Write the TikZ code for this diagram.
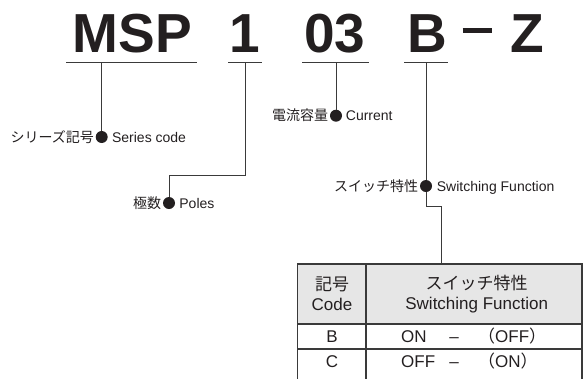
\documentclass[tikz,border=0pt]{standalone}
\usepackage{fontspec}
\setmainfont{Liberation Sans}
\newfontfamily\cjk{Noto Sans CJK JP}
\usetikzlibrary{positioning}
\definecolor{ink}{HTML}{231F20}
\definecolor{rule}{HTML}{3A3A3A}
\definecolor{headfill}{HTML}{E6E6E6}
\begin{document}
\begin{tikzpicture}[x=1pt,y=-1pt,
  every node/.style={text=ink,inner sep=0pt},
  code/.style={font=\fontsize{55}{55}\selectfont\bfseries,anchor=base},
  dot/.style={circle,fill=ink,minimum size=12pt},
  lab/.style={font=\fontsize{14}{14}\selectfont,text height=10pt,text depth=0pt},
  wire/.style={draw=rule,line width=0.8pt},
  grid/.style={draw=rule,line width=1.2pt},
  cell/.style={font=\fontsize{17}{20}\selectfont}]
  \clip (0,0) rectangle (584,378);
  \node[code] (msp) at (132.5,52) {MSP};
  \node[code] (one) at (245,52) {1};
  \node[code] (amp) at (335,52) {03};
  \node[code] (sw) at (427.5,52) {B};
  \node[code] (dash) at (477,52) {\rule[19pt]{29pt}{5pt}};
  \node[code] (z) at (527,52) {Z};
  \draw[wire] (66,62) -- (197,62) (228,62) -- (262,62)
    (302,62) -- (369,62) (404,62) -- (448,62);
  \coordinate (u-msp) at (101.7,62);
  \coordinate (u-one) at (245,62);
  \coordinate (u-amp) at (336,62);
  \coordinate (u-sw) at (426,62);
  \node[dot] (series) at (101.7,137) {};
  \node[dot] (poles) at (169,203) {};
  \node[dot] (current) at (336,115.7) {};
  \node[dot] (switch) at (426,186) {};
  \node[lab,left=1.5pt of series] {\cjk シリーズ記号};
  \node[lab,right=4pt of series] {Series code};
  \node[lab,left=1.5pt of poles] {\cjk 極数};
  \node[lab,right=4pt of poles] {Poles};
  \node[lab,left=1.5pt of current] {\cjk 電流容量};
  \node[lab,right=3.5pt of current] {Current};
  \node[lab,left=1.5pt of switch] {\cjk スイッチ特性};
  \node[lab,right=4.5pt of switch] {Switching Function};
  \coordinate (k-one) at (245,175);
  \coordinate (k-sw) at (441.7,206);
  \coordinate (tab-in) at (441.7,264);
  \draw[wire] (u-msp) -- (series);
  \draw[wire] (u-one) -- (k-one) -| (poles);
  \draw[wire] (u-amp) -- (current);
  \draw[wire] (u-sw) -- (switch) |- (k-sw) -- (tab-in);
  \fill[headfill] (297.5,264) rectangle (582,324);
  \draw[grid] (297.5,390) -- (297.5,264) -- (582,264) -- (582,390);
  \draw[grid] (297.5,324) -- (582,324) (297.5,349) -- (582,349)
    (366,264) -- (366,390);
  \node[cell,align=center] (hcode) at (332,294) {{\cjk 記号}\\Code};
  \node[cell,align=center] (hfunc) at (476.7,294) {{\cjk スイッチ特性}\\Switching Function};
  \node[cell,anchor=base] (cb) at (332,342.6) {B};
  \node[cell,anchor=base west] (bon) at (401,342.6) {ON};
  \node[cell,anchor=base] (bdash) at (454,342.6) {–};
  \node[cell,anchor=base west] (boff) at (478,342.6) {{\cjk （}OFF{\cjk ）}};
  \node[cell,anchor=base] (cc) at (332,367.6) {C};
  \node[cell,anchor=base west] (coff) at (401,367.6) {OFF};
  \node[cell,anchor=base] (cdash) at (454,367.6) {–};
  \node[cell,anchor=base west] (con) at (478,367.6) {{\cjk （}ON{\cjk ）}};
\end{tikzpicture}
\end{document}
